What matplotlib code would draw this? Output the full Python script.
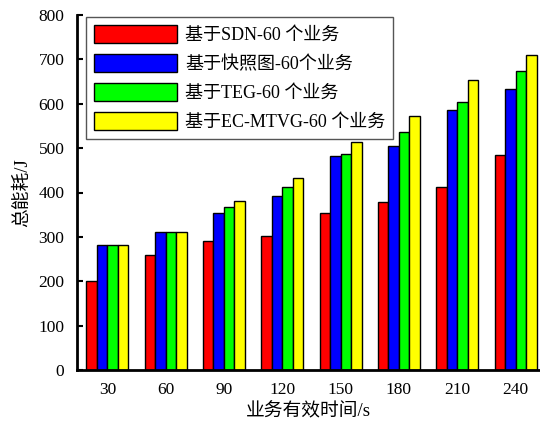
import matplotlib
matplotlib.use("Agg")
import matplotlib.pyplot as plt
import numpy as np

plt.rcParams['font.family'] = ['Liberation Serif', 'Noto Sans CJK SC']
plt.rcParams['font.size'] = 12

times = ["30", "60", "90", "120", "150", "180", "210", "240"]
sdn = [200, 260, 290, 301, 353, 379, 412, 484]
snapshot = [281, 311, 353, 391, 483, 504, 586, 633]
teg = [281, 311, 368, 412, 486, 536, 603, 674]
ecmtvg = [281, 311, 381, 433, 513, 573, 654, 710]

labels = ["基于SDN-60 个业务", "基于快照图-60个业务", "基于TEG-60 个业务", "基于EC-MTVG-60 个业务"]
colors = ["#ff0000", "#0000ff", "#00ff00", "#ffff00"]

fig = plt.figure(figsize=(5.4, 4.29), dpi=100)
ax = fig.add_axes([77/540, 59/429, 463/540, 355/429])

x = np.arange(len(times))
w = 0.18
for i, (vals, lab, c) in enumerate(zip([sdn, snapshot, teg, ecmtvg], labels, colors)):
    ax.bar(x + (i - 1.5) * w, vals, width=w, color=c, edgecolor="black",
           linewidth=1.0, label=lab)

ax.set_xlim(-0.52, 7.42)
ax.set_ylim(0, 800)
ax.set_yticks(range(0, 801, 100))
ax.set_xticks(x)
ax.set_xticklabels(times)
ax.tick_params(axis="both", labelsize=12.5)
ax.tick_params(axis="y", direction="in", length=4, width=1.5, pad=9)
ax.tick_params(axis="x", length=0, pad=9)
ax.spines["top"].set_visible(False)
ax.spines["right"].set_visible(False)
ax.spines["left"].set_linewidth(2)
ax.spines["bottom"].set_linewidth(2)

ax.set_xlabel("业务有效时间/s", fontsize=13.5, labelpad=3)
ax.set_ylabel("总能耗/J", fontsize=13.5, labelpad=5)

leg = ax.legend(loc="upper left", bbox_to_anchor=(8.7/463, 1 - 1.7/355),
                borderaxespad=0, fancybox=False, framealpha=1, fontsize=13,
                handlelength=4.6, handleheight=1.15, handletextpad=0.45,
                labelspacing=0.55, borderpad=0.45)
leg.get_frame().set_edgecolor("#555555")
leg.get_frame().set_linewidth(1.0)

fig.savefig("out.png", dpi=100)
